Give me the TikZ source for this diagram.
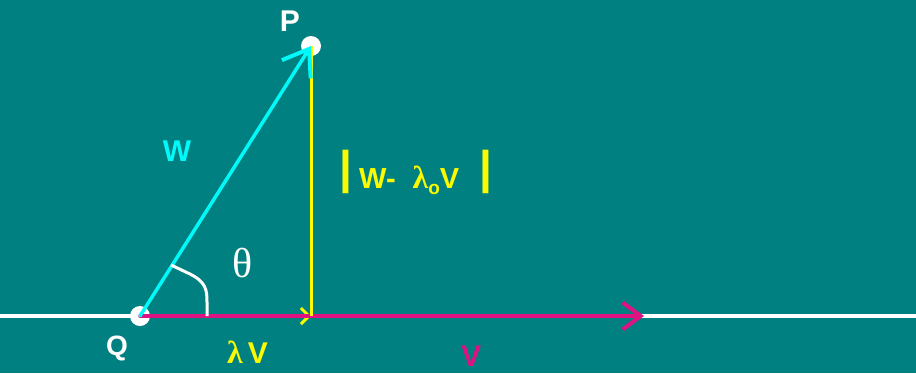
\documentclass[tikz,border=0pt]{standalone}
\usepackage{fontspec}
\setmainfont{Liberation Sans}
\newfontfamily\grk{Liberation Serif}
\usetikzlibrary{arrows.meta}
\definecolor{bg}{RGB}{0,128,128}
\definecolor{cyanv}{RGB}{0,250,250}
\definecolor{magv}{RGB}{222,18,128}
\definecolor{yelv}{RGB}{250,250,0}
\tikzset{
  lbl/.style={inner sep=0pt, font=\fontsize{30}{30}\selectfont\bfseries},
  grklbl/.style={inner sep=0pt, font=\fontsize{42}{42}\selectfont\grk},
  dot/.style={circle, fill=white, minimum size=20pt, inner sep=0pt},
  vec/.style={line width=3.5pt, line cap=round},
}
\begin{document}
\begin{tikzpicture}[x=1pt,y=-1pt]
\fill[bg] (0,0) rectangle (916,373);
\useasboundingbox (0,0) rectangle (916,373);
\coordinate (L) at (0,316);
\coordinate (R) at (916,316);
\coordinate (F) at (311,316);
\coordinate (T) at (644,316);
\node[dot] (Q) at (140,316) {};
\node[dot] (P) at (311,46) {};
\draw[white, line width=3.5pt] (L) -- (R);
% lambda V (yellow, under V)
\draw[yelv, line width=3pt, -{Straight Barb[length=8pt,width=16pt,line width=3pt]}] (Q.center) -- (F);
% V
\draw[magv, vec, -{Straight Barb[length=18pt,width=27pt,line width=4pt]}] (Q.center) -- (T);
% W - lambda0 V
\draw[yelv, line width=3pt] (P.center) -- (F);
% W
\draw[cyanv, vec, -{Straight Barb[length=24pt,width=34pt,line width=4pt]}] (Q.center) -- (P.center);
% angle
\coordinate (A1) at (171,265);
\coordinate (A2) at (207,316);
\draw[white, line width=3pt] (A1) -- (190,274) .. controls (206,282) and (207,290) .. (207,302) -- (A2);
% labels
\node[lbl, white] (lP) at (290,21) {P};
\node[lbl, white, font=\fontsize{28}{28}\selectfont\bfseries] (lQ) at (117,348) {Q};
\node[lbl, cyanv] (lW) at (177,151) {W};
\node[grklbl, white] (lth) at (243,263) {θ};
\node[lbl, yelv, anchor=base west] (llv) at (227,363) {{\fontsize{32}{32}\selectfont\grk λ}\,V};
\node[lbl, magv] (lV) at (471,356) {V};
\node[lbl, yelv, anchor=base west, font=\fontsize{29}{29}\selectfont\bfseries] (lnorm) at (359,188) {W-\hspace{17pt}{\fontsize{32}{32}\selectfont\grk λ}\raisebox{-6pt}{\fontsize{19}{19}\selectfont o}V};
\node[inner sep=0pt, yelv, font=\fontsize{46}{46}\selectfont\bfseries] (b1) at (346,172) {|};
\node[inner sep=0pt, yelv, font=\fontsize{46}{46}\selectfont\bfseries] (b2) at (486,172) {|};
\end{tikzpicture}
\end{document}
